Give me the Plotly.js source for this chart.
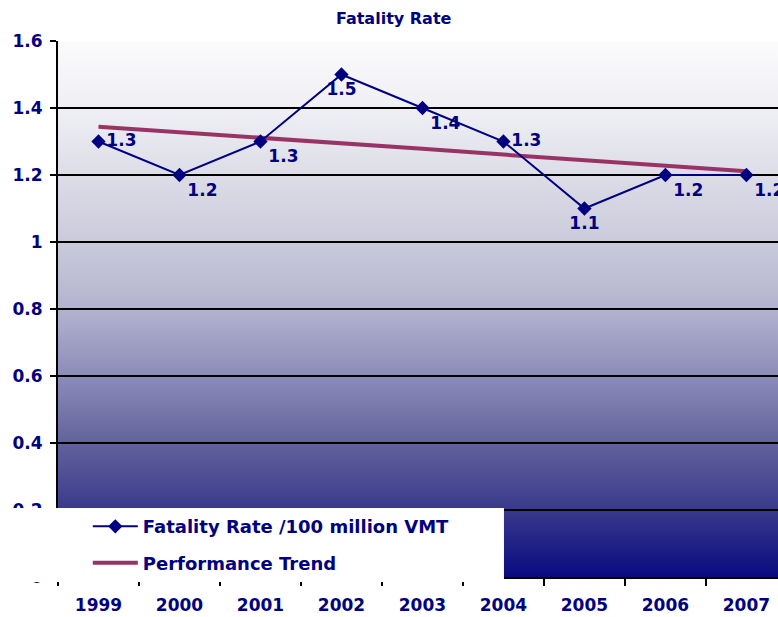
<!DOCTYPE html>
<html>
<head>
<meta charset="utf-8">
<script src="https://cdn.plot.ly/plotly-3.0.1.min.js"></script>
<style>html,body{margin:0;padding:0;background:#fff;}#chart{width:778px;height:617px;}</style>
</head>
<body>
<div id="chart"></div>
<script>
// ---- data ----
const years = ['1999','2000','2001','2002','2003','2004','2005','2006','2007'];
const fatalityRate = [1.3, 1.2, 1.3, 1.5, 1.4, 1.3, 1.1, 1.2, 1.2];
const performanceTrend = [1.344, 1.328, 1.311, 1.294, 1.278, 1.261, 1.244, 1.228, 1.211];
const yTickVals = [0, 0.2, 0.4, 0.6, 0.8, 1, 1.2, 1.4, 1.6];
const yTickText = ['0', '0.2', '0.4', '0.6', '0.8', '1', '1.2', '1.4', '1.6'];
const labelPositions = ['middle right','bottom right','bottom right','bottom center','bottom right','middle right','bottom center','bottom right','bottom right'];

// ---- background gradient (plot area) ----
function makeGradient() {
  const c = document.createElement('canvas');
  c.width = 720; c.height = 536;
  const g = c.getContext('2d');
  const grad = g.createLinearGradient(0, 0, 0, 536);
  const stops = [
    [0.0, '#fbfbfd'], [0.125, '#efeff4'], [0.25, '#dddde8'], [0.375, '#cacadb'],
    [0.5, '#b3b3cf'], [0.625, '#8c8cba'], [0.75, '#62629c'], [0.875, '#39398d'], [1.0, '#0a0a80']
  ];
  stops.forEach(s => grad.addColorStop(s[0], s[1]));
  g.fillStyle = grad;
  g.fillRect(0, 0, 720, 536);
  return c.toDataURL('image/png');
}

const navy = '#000080';
const fontFam = '"DejaVu Sans", Verdana, sans-serif';

const traces = [
  {
    x: years, y: performanceTrend, type: 'scatter', mode: 'lines',
    name: 'Performance Trend',
    line: {color: '#993366', width: 4},
    legendgroup: 'b', legendrank: 2
  },
  {
    x: years, y: fatalityRate, type: 'scatter', mode: 'lines+markers+text',
    name: 'Fatality Rate /100 million VMT',
    line: {color: navy, width: 2},
    marker: {symbol: 'diamond', size: 11, color: navy},
    text: fatalityRate.map(v => v.toFixed(1)),
    textposition: labelPositions,
    textfont: {family: fontFam, size: 17, color: navy, weight: 'bold'},
    legendgroup: 'a', legendrank: 1, cliponaxis: false
  }
];

const layout = {
  width: 778, height: 617,
  margin: {l: 58, r: 0, t: 41, b: 40, pad: 0},
  paper_bgcolor: '#ffffff',
  plot_bgcolor: 'rgba(0,0,0,0)',
  font: {family: fontFam, color: navy, size: 17, weight: 'bold'},
  title: {
    text: 'Fatality Rate',
    font: {family: fontFam, size: 16, color: navy, weight: 'bold'},
    x: 0.506, xanchor: 'center', y: 0.97, yanchor: 'middle'
  },
  xaxis: {
    type: 'category', range: [-0.5, 8.39],
    tickson: 'boundaries', ticks: 'outside', ticklen: 7, tickwidth: 2, tickcolor: '#000',
    ticklabelstandoff: 12,
    showline: true, linecolor: '#000', linewidth: 2,
    showgrid: false, zeroline: false,
    tickfont: {family: fontFam, size: 17, color: navy, weight: 'bold'},
    fixedrange: true
  },
  yaxis: {
    range: [0, 1.6], tickvals: yTickVals, ticktext: yTickText,
    ticks: 'outside', ticklen: 6, tickwidth: 2, tickcolor: '#000',
    ticklabelstandoff: 4,
    showline: true, linecolor: '#000', linewidth: 2,
    showgrid: true, gridcolor: '#000', gridwidth: 2, zeroline: false,
    tickfont: {family: fontFam, size: 17, color: navy, weight: 'bold'},
    fixedrange: true
  },
  showlegend: true,
  legend: {
    x: 0.0414, xanchor: 'left', y: 0.1285, yanchor: 'top',
    bgcolor: 'rgba(0,0,0,0)', borderwidth: 0,
    traceorder: 'grouped', tracegroupgap: 10, itemwidth: 45,
    font: {family: fontFam, size: 18, color: navy, weight: 'bold'}
  },
  images: [{
    source: makeGradient(), xref: 'paper', yref: 'paper',
    x: 0, y: 1, sizex: 1, sizey: 1, sizing: 'stretch',
    xanchor: 'left', yanchor: 'top', layer: 'below'
  }],
  shapes: [{
    type: 'rect', xref: 'paper', yref: 'paper', layer: 'above',
    x0: -0.1, x1: 0.6194, y0: -0.0093, y1: 0.1287,
    fillcolor: '#ffffff', line: {width: 0}
  }]
};

Plotly.newPlot('chart', traces, layout, {staticPlot: true, displayModeBar: false});
</script>
</body>
</html>
